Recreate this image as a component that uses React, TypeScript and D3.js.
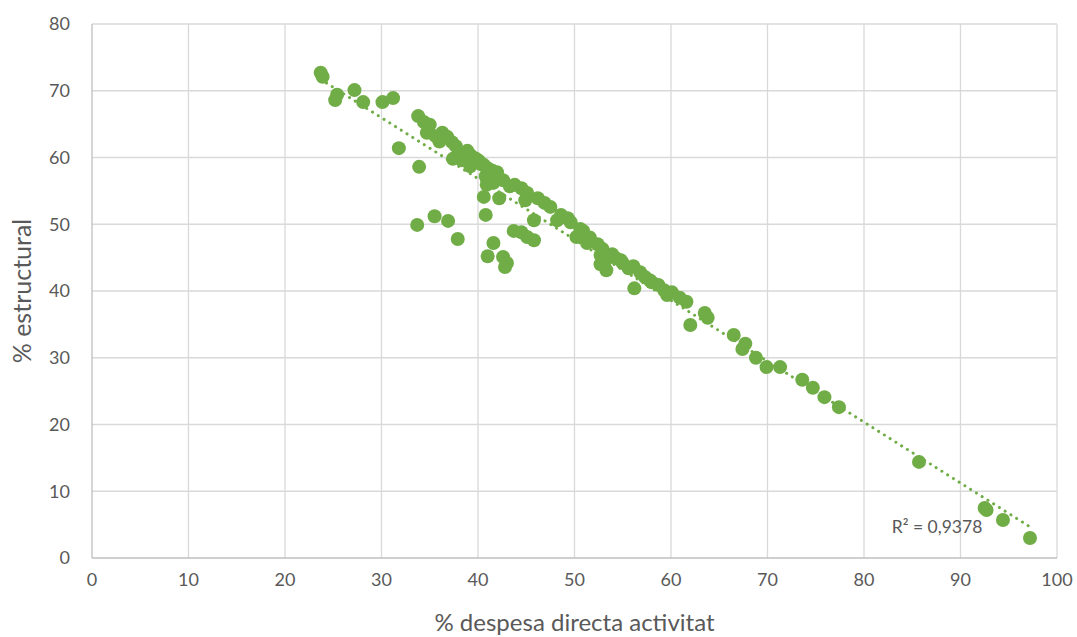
import React, { useEffect, useRef } from "react";
import * as d3 from "d3";

const xTicks = [0, 10, 20, 30, 40, 50, 60, 70, 80, 90, 100];
const yTicks = [0, 10, 20, 30, 40, 50, 60, 70, 80];

// % despesa directa activitat
const despesa = [
  23.7, 23.9, 25.2, 25.4, 27.2, 28.1, 30.1, 31.2, 31.8, 33.9, 33.8, 34.4, 35.0, 34.7, 36.3, 36.8,
  37.3, 37.7, 37.4, 38.3, 38.9, 39.2, 39.7, 40.1, 39.2, 40.6, 41.0, 41.5, 41.97, 40.8, 40.9, 40.6,
  40.8, 42.2, 42.6, 43.3, 44.5, 45.1, 44.9, 46.2, 46.9, 45.8, 41.6, 41.0, 42.6, 43.0, 42.8, 43.7,
  44.5, 45.1, 45.8, 48.2, 48.6, 49.3, 50.2, 50.9, 51.3, 51.6, 52.4, 52.9, 52.7, 52.7, 53.3, 53.1,
  53.9, 54.3, 55.0, 56.1, 56.2, 56.8, 57.3, 58.0, 58.7, 59.3, 59.6, 60.1, 60.9, 61.6, 62.0, 63.5,
  63.8, 66.5, 67.7, 67.4, 68.8, 69.9, 71.3, 73.6, 74.7, 75.9, 77.4, 85.7, 92.5, 92.7, 94.4, 97.2,
  33.7, 35.5, 36.9, 37.9, 38.6, 39.6, 40.3, 41.2, 39.0, 38.0, 36.0, 42.0, 43.8, 47.5, 49.6, 50.6,
  54.8, 57.8, 55.6, 35.6, 41.6,
];

// % estructural
const estructural = [
  72.7, 72.1, 68.6, 69.4, 70.1, 68.3, 68.3, 68.9, 61.4, 58.6, 66.2, 65.3, 64.9, 63.7, 63.7, 63.1,
  62.3, 61.7, 59.8, 59.6, 61.0, 60.4, 59.9, 59.5, 58.7, 58.9, 58.4, 58.0, 57.8, 57.2, 55.9, 54.1,
  51.4, 53.9, 56.6, 55.7, 55.4, 54.7, 53.6, 53.9, 53.2, 50.6, 47.2, 45.2, 45.1, 44.2, 43.6, 49.0,
  48.8, 48.1, 47.6, 50.6, 51.4, 50.9, 48.1, 49.0, 47.2, 48.0, 47.0, 46.3, 45.4, 44.0, 43.1, 44.3,
  45.5, 44.9, 44.2, 43.7, 40.4, 42.8, 42.1, 41.3, 40.9, 40.1, 39.4, 39.8, 39.0, 38.4, 34.9, 36.7,
  36.0, 33.4, 32.1, 31.3, 30.0, 28.6, 28.6, 26.7, 25.5, 24.1, 22.6, 14.4, 7.5, 7.2, 5.7, 3.0,
  49.9, 51.2, 50.5, 47.8, 60.2, 59.2, 59.0, 57.6, 59.4, 60.6, 62.4, 57.0, 55.9, 52.6, 50.3, 49.3,
  44.6, 41.6, 43.4, 63.2, 56.2,
];

const W = 1077;
const H = 637;
const margin = { left: 92, right: 20, top: 24, bottom: 79 };
const GREEN = "#70ad47";
const TEXT = "#595959";
const GRID = "#d9d9d9";
const FONT = "Lato, 'Open Sans', sans-serif";

export default function App() {
  const ref = useRef<SVGSVGElement>(null);

  useEffect(() => {
    const svg = d3.select(ref.current);
    svg.selectAll("*").remove();

    const x = d3.scaleLinear().domain([0, 100]).range([margin.left, W - margin.right]);
    const y = d3.scaleLinear().domain([0, 80]).range([H - margin.bottom, margin.top]);

    svg.append("rect").attr("width", W).attr("height", H).attr("fill", "#fff");

    // gridlines
    svg.append("g")
      .selectAll("line")
      .data(xTicks.slice(1))
      .join("line")
      .attr("x1", (d) => x(d)).attr("x2", (d) => x(d))
      .attr("y1", y(0)).attr("y2", y(80))
      .attr("stroke", GRID).attr("stroke-width", 1.3);
    svg.append("g")
      .selectAll("line")
      .data(yTicks.slice(1))
      .join("line")
      .attr("x1", x(0)).attr("x2", x(100))
      .attr("y1", (d) => y(d)).attr("y2", (d) => y(d))
      .attr("stroke", GRID).attr("stroke-width", 1.3);

    // axes lines
    svg.append("line")
      .attr("x1", x(0)).attr("x2", x(0)).attr("y1", y(0)).attr("y2", y(80))
      .attr("stroke", "#bfbfbf").attr("stroke-width", 1.3);
    svg.append("line")
      .attr("x1", x(0)).attr("x2", x(100)).attr("y1", y(0)).attr("y2", y(0))
      .attr("stroke", "#bfbfbf").attr("stroke-width", 1.3);

    // tick labels
    svg.append("g")
      .selectAll("text")
      .data(yTicks)
      .join("text")
      .attr("x", x(0) - 22)
      .attr("y", (d) => y(d))
      .attr("dy", "0.35em")
      .attr("text-anchor", "end")
      .attr("fill", TEXT)
      .style("font-family", FONT)
      .style("font-size", "18px")
      .text((d) => d);
    svg.append("g")
      .selectAll("text")
      .data(xTicks)
      .join("text")
      .attr("x", (d) => x(d))
      .attr("y", y(0) + 22)
      .attr("dy", "0.35em")
      .attr("text-anchor", "middle")
      .attr("fill", TEXT)
      .style("font-family", FONT)
      .style("font-size", "18px")
      .text((d) => d);

    // axis titles
    svg.append("text")
      .attr("x", (x(0) + x(100)) / 2)
      .attr("y", 623)
      .attr("dy", "0.35em")
      .attr("text-anchor", "middle")
      .attr("fill", TEXT)
      .style("font-family", FONT)
      .style("font-size", "24px")
      .text("% despesa directa activitat");
    svg.append("text")
      .attr("transform", `translate(22, ${(y(0) + y(80)) / 2}) rotate(-90)`)
      .attr("dy", "0.35em")
      .attr("text-anchor", "middle")
      .attr("fill", TEXT)
      .style("font-family", FONT)
      .style("font-size", "25px")
      .text("% estructural");

    // points
    const pts = despesa.map((d, i) => [d, estructural[i]] as [number, number]);
    svg.append("g")
      .selectAll("circle")
      .data(pts)
      .join("circle")
      .attr("cx", (d) => x(d[0]))
      .attr("cy", (d) => y(d[1]))
      .attr("r", 7)
      .attr("fill", GREEN);

    // linear trendline (least squares)
    const mx = d3.mean(pts, (d) => d[0])!;
    const my = d3.mean(pts, (d) => d[1])!;
    let sxy = 0, sxx = 0;
    pts.forEach(([a, b]) => { sxy += (a - mx) * (b - my); sxx += (a - mx) * (a - mx); });
    const slope = sxy / sxx;
    const icpt = my - slope * mx;
    const [x0, x1] = d3.extent(pts, (d) => d[0]) as [number, number];
    svg.append("line")
      .attr("x1", x(x0)).attr("y1", y(icpt + slope * x0))
      .attr("x2", x(x1)).attr("y2", y(icpt + slope * x1))
      .attr("stroke", GREEN)
      .attr("stroke-width", 3)
      .attr("stroke-linecap", "round")
      .attr("stroke-dasharray", "0.1 6.7");

    svg.append("text")
      .attr("x", 937)
      .attr("y", 527)
      .attr("dy", "0.35em")
      .attr("text-anchor", "middle")
      .attr("fill", TEXT)
      .style("font-family", FONT)
      .style("font-size", "17.5px")
      .text("R² = 0,9378");
  }, []);

  return (
    <svg
      ref={ref}
      width={W}
      height={H}
      style={{ position: "absolute", left: 0, top: 0, display: "block" }}
    />
  );
}
